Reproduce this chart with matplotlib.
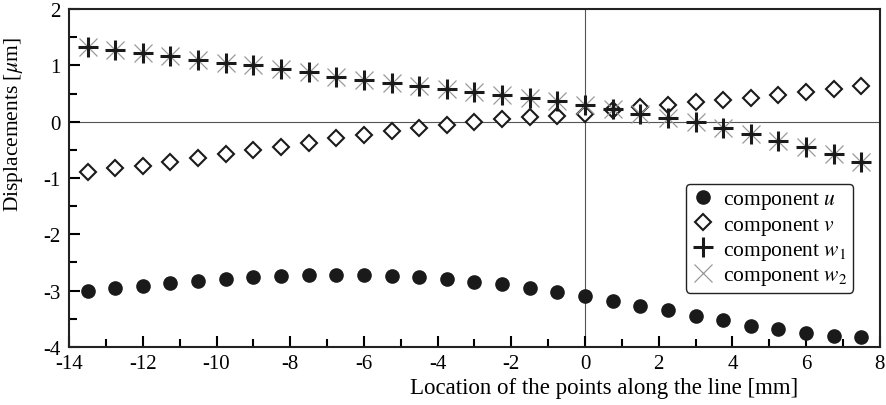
import numpy as np
import matplotlib.pyplot as plt
from matplotlib.ticker import MultipleLocator

plt.rcParams['font.family'] = ['Liberation Serif', 'DejaVu Serif']
plt.rcParams['mathtext.fontset'] = 'stix'
plt.rcParams['axes.unicode_minus'] = False
plt.rcParams.update({'font.size': 14})

# data
loc = np.arange(-13.5, 7.51, 0.75)
comp_u = [-3.00, -2.95, -2.91, -2.87, -2.83, -2.79, -2.76, -2.74, -2.73, -2.72,
          -2.72, -2.74, -2.76, -2.80, -2.84, -2.89, -2.95, -3.02, -3.09, -3.18,
          -3.27, -3.35, -3.45, -3.53, -3.62, -3.68, -3.75, -3.80, -3.83]
comp_v = [-0.89, -0.83, -0.78, -0.72, -0.65, -0.57, -0.50, -0.44, -0.37, -0.29,
          -0.23, -0.17, -0.11, -0.06, 0.00, 0.04, 0.08, 0.11, 0.14, 0.21,
          0.27, 0.30, 0.35, 0.38, 0.43, 0.47, 0.53, 0.59, 0.64]
comp_w1 = [1.33, 1.27, 1.22, 1.17, 1.10, 1.05, 1.00, 0.94, 0.88, 0.80,
           0.75, 0.69, 0.64, 0.59, 0.53, 0.47, 0.42, 0.36, 0.30, 0.23,
           0.13, 0.06, -0.01, -0.11, -0.22, -0.34, -0.45, -0.57, -0.72]
comp_w2 = [1.33, 1.27, 1.22, 1.17, 1.10, 1.05, 1.00, 0.94, 0.88, 0.80,
           0.75, 0.69, 0.64, 0.59, 0.53, 0.47, 0.42, 0.36, 0.30, 0.23,
           0.13, 0.06, -0.01, -0.11, -0.22, -0.34, -0.45, -0.57, -0.72]

fig = plt.figure(figsize=(8.86, 4.06), dpi=100)
ax = fig.add_axes([0.078, 0.143, 0.915, 0.832])

ax.axhline(0, color='#555555', lw=0.8, zorder=1)
ax.axvline(0, color='#555555', lw=0.8, zorder=1)

ax.plot(loc, comp_u, 'o', color='#1a1a1a', ms=9.5, label='component $u$', zorder=3)
ax.plot(loc, comp_v, 'D', mfc='white', mec='#1a1a1a', mew=1.5, ms=8.5,
        label='component $v$', zorder=3)
ax.plot(loc, comp_w2, 'x', color='#999999', mew=0.9, ms=13, label='component $w_2$', zorder=4)
ax.plot(loc, comp_w1, '+', color='#1a1a1a', mew=2.2, ms=15, label='component $w_1$', zorder=5)

ax.set_xlim(-14, 8)
ax.set_ylim(-4, 2)
ax.xaxis.set_major_locator(MultipleLocator(2))
ax.xaxis.set_minor_locator(MultipleLocator(1))
ax.yaxis.set_major_locator(MultipleLocator(1))
ax.yaxis.set_minor_locator(MultipleLocator(0.5))
ax.tick_params(which='both', direction='in', top=False, right=False, labelsize=15)
ax.tick_params(which='major', length=8, width=1.5)
ax.tick_params(which='minor', length=6, width=1.5)
ax.tick_params(axis='x', pad=5)
ax.tick_params(axis='y', pad=6)
for s in ax.spines.values():
    s.set_linewidth(1.5)
    s.set_color('#222222')

ax.set_xlabel('Location of the points along the line [mm]', fontsize=16.5)
ax.set_ylabel(r'Displacements [$\mu$m]', fontsize=15.5)
ax.xaxis.set_label_coords(0.66, -0.09)
ax.yaxis.set_label_coords(-0.054, 0.66)

h, l = ax.get_legend_handles_labels()
order = [0, 1, 3, 2]
leg = ax.legend([h[i] for i in order], [l[i] for i in order],
                loc='center right', bbox_to_anchor=(0.967, 0.322), fontsize=15.5,
                frameon=True, fancybox=True, edgecolor='#222222',
                handlelength=1.1, handletextpad=0.4, borderpad=0.25,
                labelspacing=0.15, borderaxespad=0.0)
leg.get_frame().set_linewidth(1.0)
leg.get_frame().set_alpha(1)

fig.savefig('out.png', dpi=100)
